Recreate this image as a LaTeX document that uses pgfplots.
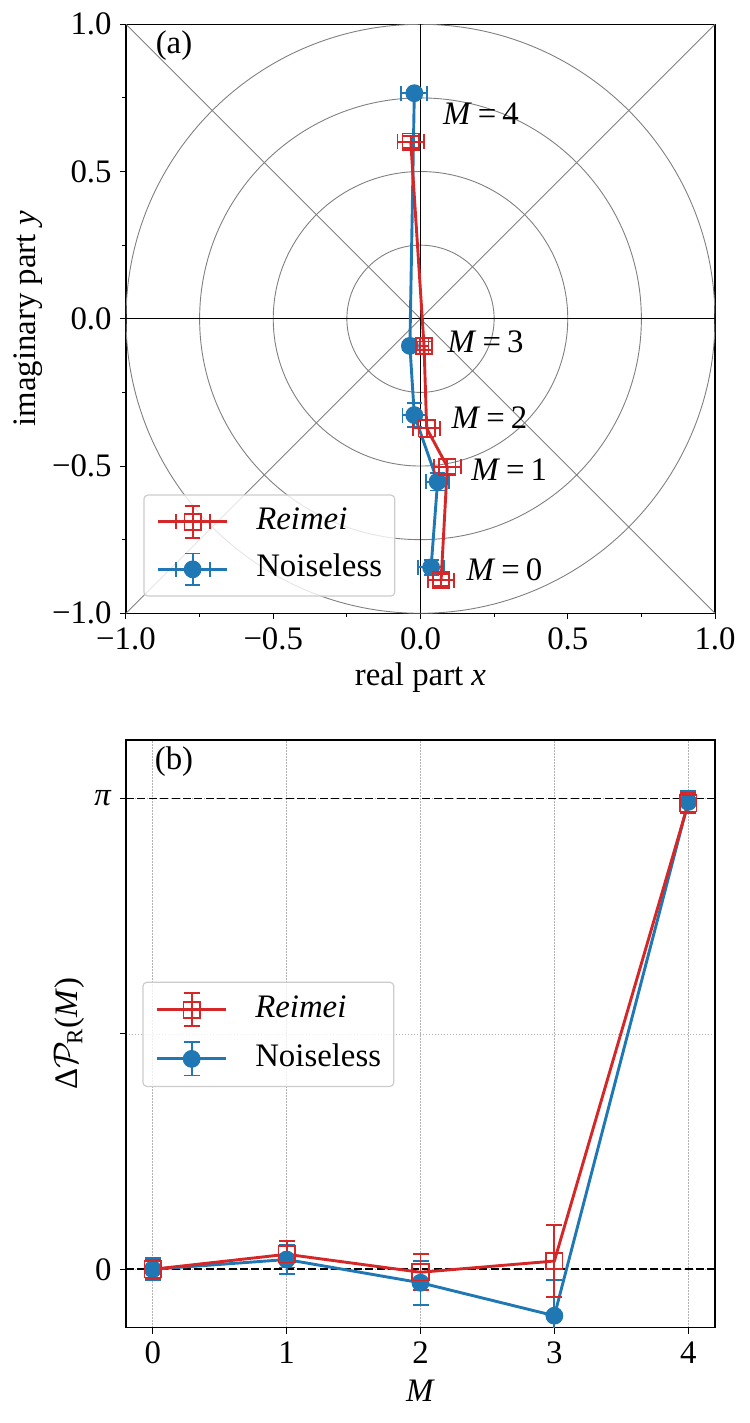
\documentclass[border=0pt]{standalone}
\usepackage{fontspec}
\setmainfont{Liberation Serif}
\usepackage{pgfplots}
\usepackage{pgfplotstable}
\pgfplotsset{compat=1.18}
\definecolor{tabred}{HTML}{D62728}
\definecolor{tabblue}{HTML}{1F77B4}
\definecolor{legedge}{HTML}{CCCCCC}

% panel (a): complex plane, x y with errors
\pgfplotstableread{
x y ex ey
0.036 -0.844 0.044 0.025
0.058 -0.553 0.040 0.030
-0.021 -0.327 0.040 0.040
-0.036 -0.092 0.015 0.015
-0.021 0.766 0.044 0.015
}\noiselessA
\pgfplotstableread{
x y ex ey
0.070 -0.887 0.045 0.020
0.091 -0.502 0.045 0.025
0.021 -0.372 0.045 0.030
0.012 -0.092 0.015 0.015
-0.033 0.601 0.045 0.020
}\reimeiA
% panel (b)
\pgfplotstableread{
x y ey
0 0.000 0.075
1 0.065 0.095
2 -0.090 0.147
3 -0.310 0.240
4 3.120 0.075
}\noiselessB
\pgfplotstableread{
x y ey
0 0.000 0.065
1 0.100 0.088
2 -0.020 0.120
3 0.055 0.240
4 3.110 0.067
}\reimeiB

\pgfplotsset{
  common/.style={
    scale only axis,
    anchor=south west,
    width=294.5pt,
    tick align=outside,
    tick pos=left,
    major tick length=3pt,
    minor tick length=1.75pt,
    tick style={line width=0.5pt, black},
    axis line style={line width=0.75pt},
    xticklabel style={inner sep=2pt, yshift=-2pt},
    yticklabel style={inner sep=2pt, xshift=-2pt},
    legend cell align=left,
    reverse legend,
    legend style={draw=legedge, line width=0.6pt, rounded corners=2pt,
      fill=white, fill opacity=0.8, text opacity=1,
      inner xsep=6.4pt, inner ysep=5pt, row sep=7pt,
      nodes={inner sep=0pt, text height=11.5pt, text depth=4pt, anchor=west},
      /tikz/every odd column/.append style={column sep=13.85pt}},
  },
  noiseless/.style={tabblue, line width=1.45pt, mark=*, mark size=4.2pt,
    mark options={solid, fill=tabblue, draw=tabblue, line width=0.5pt}},
  reimei/.style={tabred, line width=1.45pt, mark=square, mark size=4.1pt,
    mark options={solid, fill=none, line width=0.9pt}},
  legxy/.style={legend image code/.code={
    \begin{scope}[fill opacity=1, draw opacity=1]
    \draw[line width=0.95pt] (8.75pt,-3.75pt) -- (8.75pt,3.75pt);
    \draw[line width=0.95pt] (25.75pt,-3.75pt) -- (25.75pt,3.75pt);
    \draw[line width=0.95pt] (17.25pt,-7.9pt) -- (17.25pt,7.9pt);
    \draw[line width=0.95pt] (13.5pt,-7.9pt) -- (21pt,-7.9pt);
    \draw[line width=0.95pt] (13.5pt,7.9pt) -- (21pt,7.9pt);
    \draw[mark repeat=2,mark phase=2] plot coordinates {(0pt,0pt) (17.25pt,0pt) (34.5pt,0pt)};
    \end{scope}}},
  legy/.style={legend image code/.code={
    \begin{scope}[fill opacity=1, draw opacity=1]
    \draw[line width=0.95pt] (17.25pt,-8.3pt) -- (17.25pt,8.3pt);
    \draw[line width=0.95pt] (13.25pt,-8.3pt) -- (21.25pt,-8.3pt);
    \draw[line width=0.95pt] (13.25pt,8.3pt) -- (21.25pt,8.3pt);
    \draw[mark repeat=2,mark phase=2] plot coordinates {(0pt,0pt) (17.25pt,0pt) (34.5pt,0pt)};
    \end{scope}}},
}

\begin{document}
\fontsize{16.4}{19.7}\selectfont
\begin{tikzpicture}
\path[use as bounding box] (0pt,0pt) rectangle (374.5pt,711.5pt);

% ---------------- panel (a)
\begin{axis}[common,
  at={(63pt,404.85pt)},
  height=294.5pt,
  xmin=-1, xmax=1, ymin=-1, ymax=1,
  xtick={-1,-0.5,0,0.5,1},
  xticklabels={−1.0,−0.5,0.0,0.5,1.0},
  ytick={-1,-0.5,0,0.5,1},
  yticklabels={−1.0,−0.5,0.0,0.5,1.0},
  minor xtick={-0.75,-0.25,0.25,0.75},
  minor ytick={-0.75,-0.25,0.25,0.75},
  xlabel={real part \textit{x}},
  ylabel={imaginary part \textit{y}},
  xlabel style={at={(axis description cs:0.5,0)}, anchor=center, yshift=-32pt},
  ylabel style={at={(axis description cs:-0.1664,0.5)}, anchor=center},
  legend style={at={(0.0294,0.0282)}, anchor=south west},
]
\draw[gray, line width=0.45pt] (axis cs:0,0) circle[radius=0.25];
\draw[gray, line width=0.45pt] (axis cs:0,0) circle[radius=0.5];
\draw[gray, line width=0.45pt] (axis cs:0,0) circle[radius=0.75];
\draw[gray, line width=0.45pt] (axis cs:0,0) circle[radius=1];
\draw[gray, line width=0.45pt] (axis cs:-1,-1) -- (axis cs:1,1);
\draw[gray, line width=0.45pt] (axis cs:-1,1) -- (axis cs:1,-1);
\draw[black, line width=0.45pt] (axis cs:-1,0) -- (axis cs:1,0);
\draw[black, line width=0.45pt] (axis cs:0,-1) -- (axis cs:0,1);

\addplot[noiseless, legxy, error bars/.cd, x dir=both, x explicit, y dir=both, y explicit,
    error bar style={line width=0.95pt, solid},
    error mark options={rotate=90, line width=0.95pt, mark size=3.75pt, solid}]
  table[x=x, y=y, x error=ex, y error=ey] {\noiselessA};
\addlegendentry{Noiseless}
\addplot[reimei, legxy, error bars/.cd, x dir=both, x explicit, y dir=both, y explicit,
    error bar style={line width=0.95pt, solid},
    error mark options={rotate=90, line width=0.95pt, mark size=3.75pt, solid}]
  table[x=x, y=y, x error=ex, y error=ey] {\reimeiA};
\addlegendentry{\textit{Reimei}}

\node at (axis cs:0.205,0.695) {\textit{M}\hspace{3pt}=\hspace{3pt}4};
\node at (axis cs:0.221,-0.079) {\textit{M}\hspace{3pt}=\hspace{3pt}3};
\node at (axis cs:0.234,-0.337) {\textit{M}\hspace{3pt}=\hspace{3pt}2};
\node at (axis cs:0.301,-0.513) {\textit{M}\hspace{3pt}=\hspace{3pt}1};
\node at (axis cs:0.285,-0.853) {\textit{M}\hspace{3pt}=\hspace{3pt}0};
\node at (rel axis cs:0.0815,0.963) {(a)};
\end{axis}

% ---------------- panel (b)
\begin{axis}[common,
  at={(63pt,47.65pt)},
  height=293.85pt,
  xmin=-0.2, xmax=4.2, ymin=-0.39, ymax=3.533,
  xtick={0,1,2,3,4},
  xticklabels={0,1,2,3,4},
  ytick={0,1.5708,3.14159},
  yticklabels={0,,\textit{π}},
  grid=major,
  major grid style={gray!60, line width=0.45pt, dash pattern=on 0.6pt off 0.9pt},
  xlabel={\textit{M}},
  ylabel={Δ$\mathcal{P}_{\mathrm{R}}$(\textit{M})},
  xlabel style={at={(axis description cs:0.5,0)}, anchor=center, yshift=-31.7pt},
  ylabel style={at={(axis description cs:-0.0968,0.5)}, anchor=center},
  legend style={at={(0.0277,0.5888)}, anchor=north west},
]
\draw[black, line width=0.85pt, dash pattern=on 4pt off 1.7pt] (axis cs:-0.2,0) -- (axis cs:4.2,0);
\draw[black, line width=0.85pt, dash pattern=on 4pt off 1.7pt] (axis cs:-0.2,3.14159) -- (axis cs:4.2,3.14159);

\addplot[noiseless, legy, error bars/.cd, y dir=both, y explicit,
    error bar style={line width=0.95pt, solid},
    error mark options={rotate=90, line width=0.95pt, mark size=4pt, solid}]
  table[x=x, y=y, y error=ey] {\noiselessB};
\addlegendentry{Noiseless}
\addplot[reimei, legy, error bars/.cd, y dir=both, y explicit,
    error bar style={line width=0.95pt, solid},
    error mark options={rotate=90, line width=0.95pt, mark size=4pt, solid}]
  table[x=x, y=y, y error=ey] {\reimeiB};
\addlegendentry{\textit{Reimei}}

\node at (rel axis cs:0.0815,0.9626) {(b)};
\end{axis}
\end{tikzpicture}
\end{document}
